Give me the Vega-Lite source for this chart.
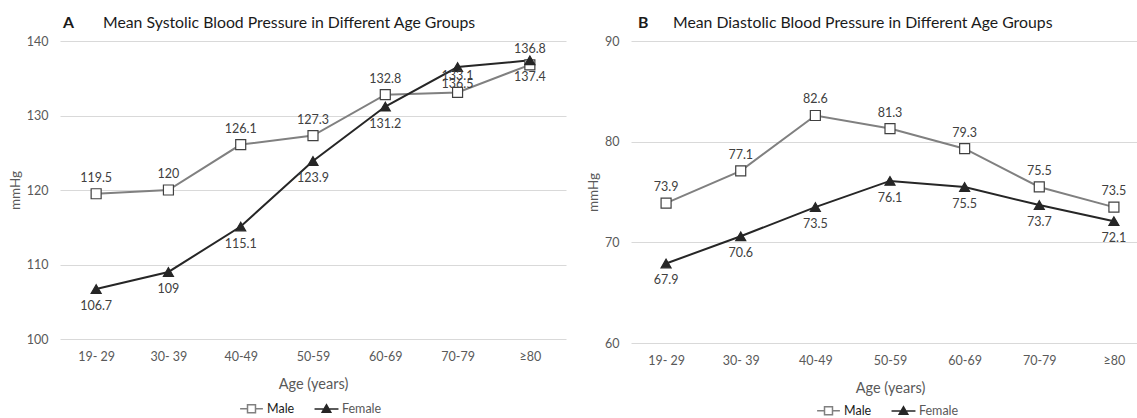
{
  "$schema": "https://vega.github.io/schema/vega-lite/v6.json",
  "padding": {"left": 8, "top": 14, "right": 0, "bottom": 0},
  "background": "white",
  "config": {
    "font": "Lato",
    "view": {"stroke": null},
    "concat": {"spacing": 20},
    "legend": {"layout": {"bottom": {"anchor": "middle"}}},
    "axis": {
      "labelFont": "Lato",
      "labelFontSize": 12.5,
      "labelColor": "#595959",
      "titleFont": "Lato",
      "titleFontWeight": "normal",
      "titleColor": "#595959",
      "domain": false,
      "ticks": false,
      "gridColor": "#d9d9d9",
      "gridWidth": 1
    },
    "title": {
      "anchor": "start",
      "frame": "group",
      "font": "Lato",
      "fontSize": 15.8,
      "fontWeight": "bold",
      "color": "#1a1a1a",
      "subtitleFont": "Lato",
      "subtitleFontSize": 15.8,
      "subtitleColor": "#1a1a1a",
      "subtitlePadding": -16,
      "offset": 3
    }
  },
  "datasets": {
    "systolic": [
      {"age": "19- 29", "sex": "Male", "value": 119.5},
      {"age": "30- 39", "sex": "Male", "value": 120},
      {"age": "40-49", "sex": "Male", "value": 126.1},
      {"age": "50-59", "sex": "Male", "value": 127.3},
      {"age": "60-69", "sex": "Male", "value": 132.8},
      {"age": "70-79", "sex": "Male", "value": 133.1},
      {"age": "≥80", "sex": "Male", "value": 136.8},
      {"age": "19- 29", "sex": "Female", "value": 106.7},
      {"age": "30- 39", "sex": "Female", "value": 109},
      {"age": "40-49", "sex": "Female", "value": 115.1},
      {"age": "50-59", "sex": "Female", "value": 123.9},
      {"age": "60-69", "sex": "Female", "value": 131.2},
      {"age": "70-79", "sex": "Female", "value": 136.5},
      {"age": "≥80", "sex": "Female", "value": 137.4}
    ],
    "diastolic": [
      {"age": "19- 29", "sex": "Male", "value": 73.9},
      {"age": "30- 39", "sex": "Male", "value": 77.1},
      {"age": "40-49", "sex": "Male", "value": 82.6},
      {"age": "50-59", "sex": "Male", "value": 81.3},
      {"age": "60-69", "sex": "Male", "value": 79.3},
      {"age": "70-79", "sex": "Male", "value": 75.5},
      {"age": "≥80", "sex": "Male", "value": 73.5},
      {"age": "19- 29", "sex": "Female", "value": 67.9},
      {"age": "30- 39", "sex": "Female", "value": 70.6},
      {"age": "40-49", "sex": "Female", "value": 73.5},
      {"age": "50-59", "sex": "Female", "value": 76.1},
      {"age": "60-69", "sex": "Female", "value": 75.5},
      {"age": "70-79", "sex": "Female", "value": 73.7},
      {"age": "≥80", "sex": "Female", "value": 72.1}
    ]
  },
  "hconcat": [
    {
      "width": 506,
      "height": 298,
      "data": {"name": "systolic"},
      "title": {
        "text": "A",
        "subtitle": "Mean Systolic Blood Pressure in Different Age Groups",
        "dx": 3,
        "encode": {"subtitle": {"update": {"dx": {"value": 43}, "fontWeight": {"value": "normal"}}}}
      },
      "encoding": {
        "x": {
          "field": "age", "type": "ordinal", "sort": null,
          "scale": {"padding": 0.5},
          "axis": {"title": "Age (years)", "titleFontSize": 14.5, "labelAngle": 0, "labelPadding": 11, "titlePadding": 15, "grid": false}
        },
        "y": {
          "field": "value", "type": "quantitative",
          "scale": {"domain": [100, 140], "nice": false, "zero": false},
          "axis": {"title": "mmHg", "titleFontSize": 13.5, "values": [100, 110, 120, 130, 140], "labelPadding": 12, "titlePadding": 4}
        }
      },
      "layer": [
        {
          "mark": {"type": "line", "strokeWidth": 2},
          "encoding": {
            "color": {
              "field": "sex", "type": "nominal",
              "scale": {"domain": ["Male", "Female"], "range": ["#808080", "#262626"]},
              "legend": {
                "orient": "bottom", "direction": "horizontal", "title": null,
                "labelFont": "Lato", "labelFontSize": 12.5, "symbolSize": 130, "symbolStrokeWidth": 1.5,
                "labelOffset": 9, "columnPadding": 16, "offset": 11,
                "encode": {
                  "symbols": {"update": {
                    "shape": {"signal": "datum.value === 'Male' ? 'M-2,0H-0.7M0.7,0H2M-0.7,-0.7H0.7V0.7H-0.7Z' : 'M-2.1,0H2.1M-0.75,0.55L0,-0.75L0.75,0.55Z'"},
                    "fill": {"signal": "datum.value === 'Male' ? '#ffffff' : '#262626'"},
                    "stroke": {"signal": "datum.value === 'Male' ? '#595959' : '#262626'"}
                  }},
                  "labels": {"update": {
                    "fill": {"signal": "datum.value === 'Male' ? '#1a1a1a' : '#595959'"}
                  }}
                }
              }
            }
          }
        },
        {
          "mark": {"type": "point", "filled": true, "size": 100, "strokeWidth": 1.2, "opacity": 1},
          "encoding": {
            "shape": {"condition": {"test": "datum.sex === 'Male'", "value": "square"}, "value": "triangle-up"},
            "fill": {"condition": {"test": "datum.sex === 'Male'", "value": "#ffffff"}, "value": "#262626"},
            "stroke": {"condition": {"test": "datum.sex === 'Male'", "value": "#404040"}, "value": "#262626"}
          }
        },
        {
          "transform": [{"filter": "datum.sex === 'Male'"}],
          "mark": {"type": "text", "dy": -16, "fontSize": 12.5, "color": "#404040"},
          "encoding": {"text": {"field": "value", "type": "nominal"}}
        },
        {
          "transform": [{"filter": "datum.sex === 'Female'"}],
          "mark": {"type": "text", "dy": 17, "fontSize": 12.5, "color": "#404040"},
          "encoding": {"text": {"field": "value", "type": "nominal"}}
        }
      ]
    },
    {
      "width": 518,
      "height": 302,
      "data": {"name": "diastolic"},
      "title": {
        "text": "B",
        "subtitle": "Mean Diastolic Blood Pressure in Different Age Groups",
        "dx": 7,
        "encode": {"subtitle": {"update": {"dx": {"value": 42}, "fontWeight": {"value": "normal"}}}}
      },
      "encoding": {
        "x": {
          "field": "age", "type": "ordinal", "sort": null,
          "scale": {"padding": 0.47},
          "axis": {"title": "Age (years)", "titleFontSize": 14.5, "labelAngle": 0, "labelPadding": 11, "titlePadding": 15, "grid": false}
        },
        "y": {
          "field": "value", "type": "quantitative",
          "scale": {"domain": [60, 90], "nice": false, "zero": false},
          "axis": {"title": "mmHg", "titleFontSize": 13.5, "values": [60, 70, 80, 90], "labelPadding": 12, "titlePadding": 4}
        }
      },
      "layer": [
        {
          "mark": {"type": "line", "strokeWidth": 2},
          "encoding": {
            "color": {
              "field": "sex", "type": "nominal",
              "scale": {"domain": ["Male", "Female"], "range": ["#808080", "#262626"]},
              "legend": {
                "orient": "bottom", "direction": "horizontal", "title": null,
                "labelFont": "Lato", "labelFontSize": 12.5, "symbolSize": 130, "symbolStrokeWidth": 1.5,
                "labelOffset": 9, "columnPadding": 16, "offset": 9,
                "encode": {
                  "symbols": {"update": {
                    "shape": {"signal": "datum.value === 'Male' ? 'M-2,0H-0.7M0.7,0H2M-0.7,-0.7H0.7V0.7H-0.7Z' : 'M-2.1,0H2.1M-0.75,0.55L0,-0.75L0.75,0.55Z'"},
                    "fill": {"signal": "datum.value === 'Male' ? '#ffffff' : '#262626'"},
                    "stroke": {"signal": "datum.value === 'Male' ? '#595959' : '#262626'"}
                  }},
                  "labels": {"update": {
                    "fill": {"signal": "datum.value === 'Male' ? '#1a1a1a' : '#595959'"}
                  }}
                }
              }
            }
          }
        },
        {
          "mark": {"type": "point", "filled": true, "size": 100, "strokeWidth": 1.2, "opacity": 1},
          "encoding": {
            "shape": {"condition": {"test": "datum.sex === 'Male'", "value": "square"}, "value": "triangle-up"},
            "fill": {"condition": {"test": "datum.sex === 'Male'", "value": "#ffffff"}, "value": "#262626"},
            "stroke": {"condition": {"test": "datum.sex === 'Male'", "value": "#404040"}, "value": "#262626"}
          }
        },
        {
          "transform": [{"filter": "datum.sex === 'Male'"}],
          "mark": {"type": "text", "dy": -16, "fontSize": 12.5, "color": "#404040"},
          "encoding": {"text": {"field": "value", "type": "nominal"}}
        },
        {
          "transform": [{"filter": "datum.sex === 'Female'"}],
          "mark": {"type": "text", "dy": 17, "fontSize": 12.5, "color": "#404040"},
          "encoding": {"text": {"field": "value", "type": "nominal"}}
        }
      ]
    }
  ],
  "resolve": {
    "scale": {"color": "independent", "x": "independent", "y": "independent"},
    "legend": {"color": "independent"}
  }
}
